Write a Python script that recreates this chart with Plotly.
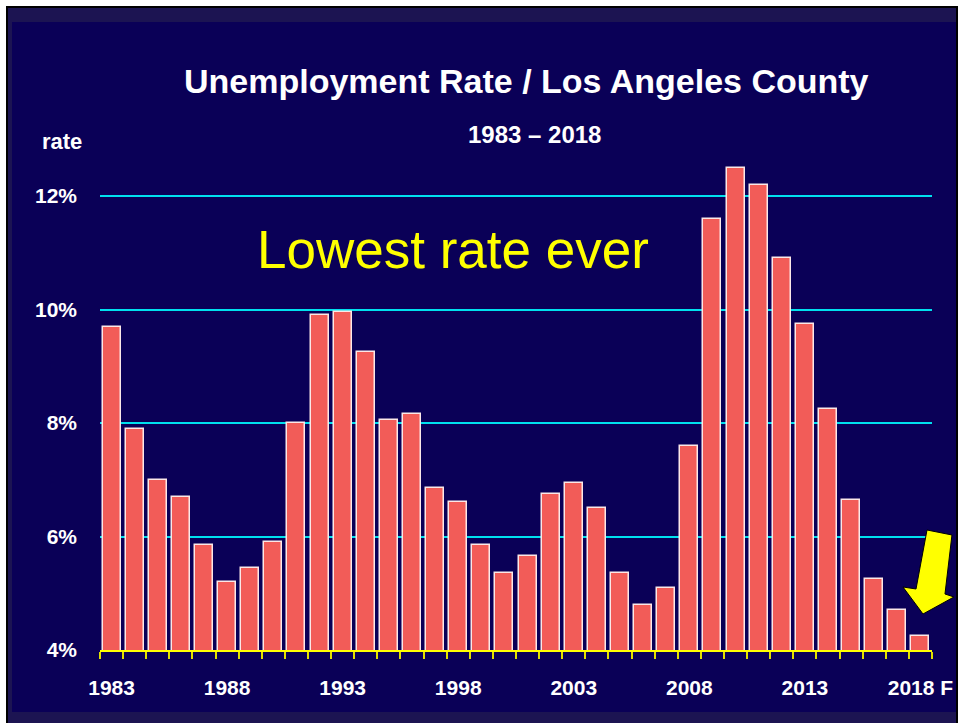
import plotly.graph_objects as go

# Annual unemployment rate, Los Angeles County (2018 is a forecast)
years = list(range(1983, 2019))
rates = [9.7, 7.9, 7.0, 6.7, 5.85, 5.2, 5.45, 5.9, 8.0, 9.9,
         9.95, 9.25, 8.05, 8.15, 6.85, 6.6, 5.85, 5.35, 5.65, 6.75,
         6.95, 6.5, 5.35, 4.8, 5.1, 7.6, 11.6, 12.5, 12.2, 10.9,
         9.75, 8.25, 6.65, 5.25, 4.7, 4.25]
label_years = [1983, 1988, 1993, 1998, 2003, 2008, 2013, 2018]
label_text = ["1983", "1988", "1993", "1998", "2003", "2008", "2013", "2018 F"]
y_ticks = [4, 6, 8, 10, 12]
y_text = ["4%", "6%", "8%", "10%", "12%"]

W, H = 960, 723
L, R, T, B = 100, 28, 160, 73
PW, PH = W - L - R, H - T - B

NAVY = "#0a0057"
NAVY_BAND = "#1c1452"
FONT = "Liberation Sans Narrow, Arial Narrow, Liberation Sans, Arial, sans-serif"


def px(x):
    return (x - L) / PW


def py(y):
    return (H - B - y) / PH


fig = go.Figure(
    go.Bar(
        x=years,
        y=rates,
        width=0.78,
        marker=dict(color="#f25c58", line=dict(color="#fbe8e8", width=1.5)),
        hoverinfo="x+y",
    )
)

shapes = [
    # slide frame: black rule, lighter band, navy panel
    dict(type="rect", xref="paper", yref="paper", layer="below",
         x0=px(7), x1=px(957), y0=py(7), y1=py(726),
         fillcolor=NAVY_BAND, line=dict(color="black", width=2)),
    dict(type="rect", xref="paper", yref="paper", layer="below",
         x0=px(12), x1=px(956), y0=py(22), y1=py(712),
         fillcolor=NAVY, line=dict(width=0)),
]

# yellow block arrow pointing at the final bar
arrow_pts = [(927, 530), (952, 535), (945, 594), (954, 597),
             (923, 614), (903, 587), (916, 589)]
path = "M " + " L ".join(f"{px(x):.4f},{py(y):.4f}" for x, y in arrow_pts) + " Z"
shapes.append(dict(type="path", xref="paper", yref="paper", path=path,
                   fillcolor="#ffff00", line=dict(color="black", width=1)))

annotations = [
    dict(text="Unemployment Rate / Los Angeles County", x=px(526), y=py(81),
         font=dict(size=34, color="white", family=FONT, weight="bold")),
    dict(text="1983 – 2018", x=px(534), y=py(134),
         font=dict(size=24, color="white", family=FONT, weight="bold")),
    dict(text="rate", x=px(62), y=py(141),
         font=dict(size=22, color="white", family=FONT, weight="bold")),
    dict(text="Lowest rate ever", x=px(453), y=py(249),
         font=dict(size=53, color="#ffff00", family=FONT)),
]
for a in annotations:
    a.update(xref="paper", yref="paper", showarrow=False,
             xanchor="center", yanchor="middle")

fig.update_layout(
    width=W, height=H,
    margin=dict(l=L, r=R, t=T, b=B, pad=0, autoexpand=False),
    paper_bgcolor="white",
    plot_bgcolor=NAVY,
    showlegend=False,
    bargap=0,
    shapes=shapes,
    annotations=annotations,
    font=dict(family=FONT, color="white"),
)

fig.update_xaxes(
    range=[1982.5, 2018.5],
    tickvals=label_years,
    ticktext=label_text,
    ticks="",
    ticklabelstandoff=18,
    tickfont=dict(size=21, color="white", family=FONT, weight="bold"),
    showgrid=False,
    zeroline=False,
    showline=True,
    linecolor="#ffff00",
    linewidth=2,
    automargin=False,
    minor=dict(tick0=1982.5, dtick=1, ticks="outside", ticklen=7,
               tickcolor="#e0e000", tickwidth=2, showgrid=False),
)

fig.update_yaxes(
    range=[4, 4 + PH / 56.75],
    tickvals=y_ticks,
    ticktext=y_text,
    ticks="",
    ticklabelstandoff=22,
    tickfont=dict(size=21, color="white", family=FONT, weight="bold"),
    showgrid=True,
    gridcolor="#00e0ee",
    gridwidth=2,
    zeroline=False,
    showline=False,
    automargin=False,
)

fig.write_html("out.html")
